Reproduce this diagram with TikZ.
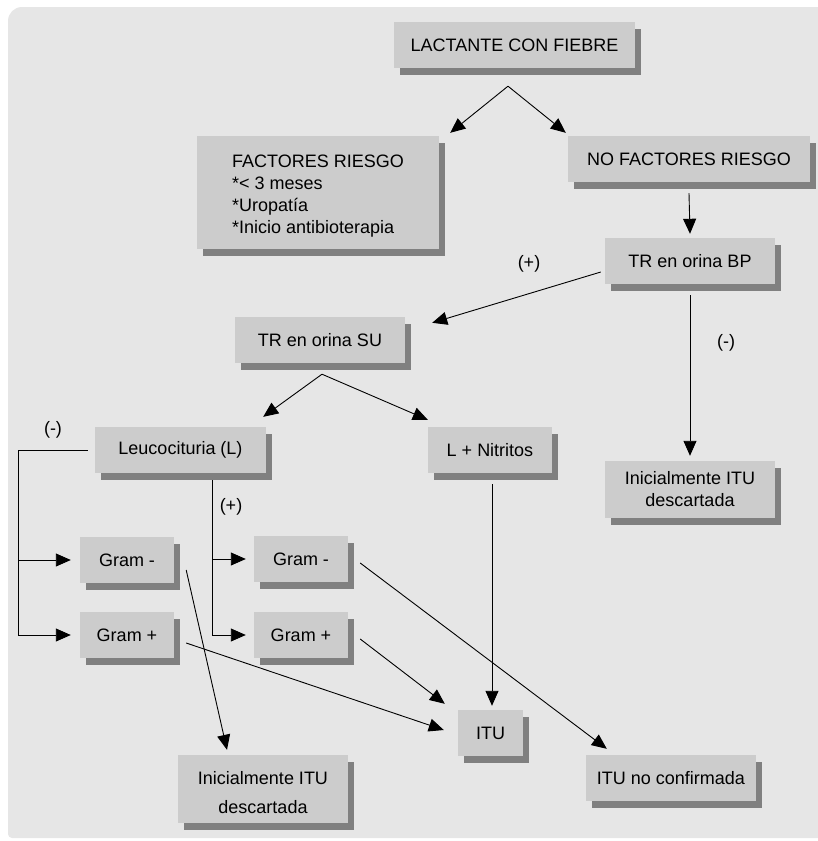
\documentclass[tikz,border=0pt]{standalone}
\usepackage{fontspec}
\setmainfont{Liberation Sans}
\usetikzlibrary{arrows.meta,shadows}
\definecolor{grisfondo}{HTML}{E6E6E6}
\definecolor{griscaja}{HTML}{CCCCCC}
\definecolor{grissombra}{HTML}{808080}
\begin{document}
\begin{tikzpicture}[
      x=1pt, y=-1pt,
      font=\fontsize{18}{22}\selectfont,
      caja/.style={fill=griscaja, inner sep=0pt, align=center,
        drop shadow={shadow xshift=6pt,shadow yshift=-7pt,fill=grissombra,opacity=1}},
      tam/.style 2 args={minimum width=#1pt, minimum height=#2pt},
      linea/.style={line width=0.9pt},
      flecha/.style={linea,->,>={Triangle[length=15pt,width=13pt]}},
    ]
    \useasboundingbox (0,0) rectangle (818,841);
    \fill[grisfondo] (840,7) -- (22,7) arc[start angle=90, end angle=180, radius=14pt]
      -- (8,834) arc[start angle=180, end angle=270, radius=4pt] -- (840,838) -- cycle;
    % cajas
    \node[caja, tam={241}{46}] (lact) at (514.5,45) {LACTANTE CON FIEBRE};
    \node[caja, tam={242}{113}] (frisk) at (318,192.5) {\raisebox{-4pt}[\height][\depth]{\begin{tabular}{@{}l@{}}
      \multicolumn{1}{@{}c@{}}{FACTORES RIESGO}\\{*}< 3 meses\\{*}Uropatía\\{*}Inicio antibioterapia
      \end{tabular}}};
    \node[caja, tam={242}{46}] (nofrisk) at (689,159) {NO FACTORES RIESGO};
    \node[caja, tam={170}{46}] (trbp) at (690,261) {TR en orina BP};
    \node[caja, tam={170}{46}] (trsu) at (320,340) {TR en orina SU};
    \node[caja, tam={171}{46}] (leuco) at (180.5,450) {Leucocituria (L)};
    \node[caja, tam={124}{46}] (lnit) at (490,450) {L + Nitritos};
    \node[caja, tam={170}{57}] (descR) at (690,489.5) {Inicialmente ITU\\descartada};
    \node[caja, tam={94}{46}] (gramnL) at (127,560) {Gram -};
    \node[caja, tam={94}{46}] (gramnR) at (301,559) {Gram -};
    \node[caja, tam={94}{46}] (grampL) at (127,635) {Gram +};
    \node[caja, tam={94}{46}] (grampR) at (301,635) {Gram +};
    \node[caja, tam={65}{46}] (itu) at (490.5,733) {ITU};
    \node[caja, tam={170}{68}, font=\fontsize{18}{29}\selectfont] (descB) at (263,789)
      {\raisebox{-4pt}[\height][\depth]{\begin{tabular}{@{}c@{}}Inicialmente ITU\\descartada\end{tabular}}};
    \node[caja, tam={170}{46}] (nocon) at (671,778) {ITU no confirmada};
    % etiquetas
    \node (masBP) at (529,264) {(+)};
    \node (menosBP) at (726,343) {(-)};
    \node (menosL) at (53,430) {(-)};
    \node (masL) at (231,507) {(+)};
    % flechas
    \coordinate (vLact) at ([shift={(-6.5,18)}]lact.south);
    \draw[flecha] (vLact) -- ([shift={(11,-3)}]frisk.north east);
    \draw[flecha] (vLact) -- ([shift={(-2,-3)}]nofrisk.north west);
    \draw[flecha] ([shift={(0,11)}]nofrisk.south) -- ([shift={(0,-4)}]trbp.north);
    \draw[flecha] ([shift={(-4,11)}]trbp.west) -- ([shift={(27,6)}]trsu.north east);
    \draw[flecha] ([shift={(0,11)}]trbp.south) -- ([shift={(0,-5)}]descR.north);
    \coordinate (vSU) at ([shift={(2,11)}]trsu.south);
    \draw[flecha] (vSU) -- ([shift={(-3,-10)}]leuco.north east);
    \draw[flecha] (vSU) -- ([shift={(0,-7)}]lnit.north west);
    \draw[flecha] ([shift={(-7,0)}]leuco.west) -- ++(-69,0) coordinate (esqI)
      -- (esqI |- grampL.west) -- ([shift={(-9,0)}]grampL.west);
    \draw[flecha] (esqI |- gramnL.west) -- ([shift={(-9,0)}]gramnL.west);
    \coordinate (esqD) at ([shift={(31.5,7)}]leuco.south);
    \draw[flecha] (esqD) -- (esqD |- grampR.west) -- ([shift={(-8,0)}]grampR.west);
    \draw[flecha] (esqD |- gramnR.west) -- ([shift={(-8,0)}]gramnR.west);
    \draw[flecha] ([shift={(2,11)}]lnit.south) -- ([shift={(1.5,-4)}]itu.north);
    \draw[flecha] ([shift={(12,10)}]gramnL.east) -- ([shift={(-36,-5)}]descB.north);
    \draw[flecha] ([shift={(12,8)}]grampL.east) -- ([shift={(-14,-3)}]itu.west);
    \draw[flecha] ([shift={(12,4)}]grampR.east) -- ([shift={(-13,-6)}]itu.north west);
    \draw[flecha] ([shift={(12,4)}]gramnR.east) -- ([shift={(21,-6)}]nocon.north west);
\end{tikzpicture}
\end{document}
